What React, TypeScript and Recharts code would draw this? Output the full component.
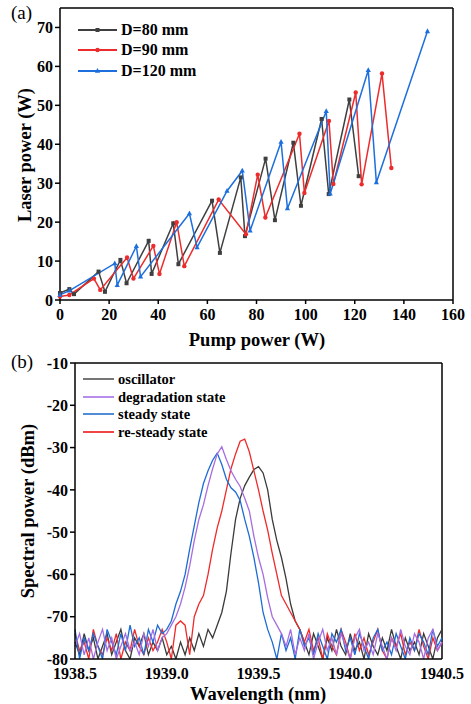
import { LineChart, Line, XAxis, YAxis, ReferenceLine } from 'recharts'

// (a) laser power vs pump power, points in measurement order (zig-zag)
const PUMP_80 = [0, 3.8, 5.7, 15.7, 18.3, 24.6, 27.1, 36.1, 37.3, 46.1, 48.2, 61.9, 65.1, 73.6, 75.3, 83.7, 87.5, 95, 98.1, 106.5, 109.4, 117.8, 121.6]
const LASER_80 = [1.8, 2.8, 1.5, 7.3, 2.1, 10.3, 4.3, 15.2, 6.7, 19.7, 9.2, 25.5, 12.1, 31.5, 16.4, 36.3, 20.5, 40.4, 24.2, 46.5, 27.2, 51.5, 31.8]

const PUMP_90 = [0, 3.8, 13.8, 16.4, 27.3, 29.9, 38, 40.5, 47.5, 50.6, 64.6, 75.7, 80.5, 83.6, 97.5, 99.5, 109.5, 111.3, 120.4, 122.8, 131.1, 134.9]
const LASER_90 = [0.9, 1.3, 5.5, 2.6, 10.9, 5.5, 13.9, 6.7, 20, 8.7, 25.8, 16.9, 32.2, 21.2, 42.7, 27.5, 46, 29.8, 53.3, 29.7, 58.2, 33.9]

const PUMP_120 = [0, 3.9, 22.3, 23.3, 31.1, 32.8, 52.7, 55.8, 68, 74.2, 77.4, 90, 92.6, 108.4, 110, 125.5, 128.8, 149.6]
const LASER_120 = [1.3, 2.4, 9.4, 3.8, 13.8, 6, 22.2, 13.5, 28, 33.2, 17.8, 40.6, 23.5, 48.5, 27.3, 59, 30.2, 69]

const PUMP_TICKS = [0, 20, 40, 60, 80, 100, 120, 140, 160]
const LASER_TICKS = [0, 10, 20, 30, 40, 50, 60, 70]

// (b) spectra
const WAVELENGTHS = [
  1938.5, 1938.525, 1938.55, 1938.575, 1938.6, 1938.625, 1938.65, 1938.675, 1938.7, 1938.725,
  1938.75, 1938.775, 1938.8, 1938.825, 1938.85, 1938.875, 1938.9, 1938.925, 1938.95, 1938.975,
  1939.0, 1939.025, 1939.05, 1939.075, 1939.1, 1939.125, 1939.15, 1939.175, 1939.2, 1939.225,
  1939.25, 1939.275, 1939.3, 1939.325, 1939.35, 1939.375, 1939.4, 1939.425, 1939.45, 1939.475,
  1939.5, 1939.525, 1939.55, 1939.575, 1939.6, 1939.625, 1939.65, 1939.675, 1939.7, 1939.725,
  1939.75, 1939.775, 1939.8, 1939.825, 1939.85, 1939.875, 1939.9, 1939.925, 1939.95, 1939.975,
  1940.0, 1940.025, 1940.05, 1940.075, 1940.1, 1940.125, 1940.15, 1940.175, 1940.2, 1940.225,
  1940.25, 1940.275, 1940.3, 1940.325, 1940.35, 1940.375, 1940.4, 1940.425, 1940.45, 1940.475,
  1940.5,
]

const OSCILLATOR = [
  -76, -79, -74, -78, -75, -80, -77, -74, -79, -76,
  -73, -78, -80, -75, -77, -74, -79, -76, -78, -75,
  -79, -77, -80, -76, -79, -75, -78, -74, -77, -73,
  -75, -72, -69, -64, -55, -47, -42, -39, -37, -35.2,
  -34.5, -36, -40, -47, -52, -56, -61, -67, -71, -73,
  -76, -79, -74, -77, -80, -75, -78, -73, -77, -79,
  -74, -78, -76, -80, -74, -77, -79, -75, -78, -73,
  -77, -80, -75, -78, -76, -79, -74, -77, -80, -75,
  -73,
]

const RE_STEADY = [
  -74, -78, -76, -80, -73, -77, -79, -75, -78, -74,
  -80, -76, -78, -73, -77, -79, -75, -78, -76, -73,
  -76, -80, -72, -71, -72, -79, -70, -67, -65, -60,
  -54, -49, -45, -40, -35, -31.5, -28.5, -28, -31, -35.5,
  -40, -45, -49.5, -55, -60, -65, -67, -69, -71, -73,
  -76, -73, -78, -75, -80, -74, -77, -79, -73, -76,
  -80, -74, -78, -75, -79, -76, -73, -78, -80, -75,
  -77, -74, -79, -76, -78, -73, -77, -80, -75, -78,
  -76,
]

const STEADY = [
  -73, -80, -75, -78, -74, -77, -80, -73, -76, -79,
  -74, -78, -72, -77, -75, -79, -73, -76, -72, -74,
  -73, -71, -67, -64, -60, -54, -48.5, -43, -38.5, -35.5,
  -33, -31.3, -34, -37.5, -39.5, -40.5, -42.5, -47, -51, -56,
  -62, -69, -73, -76, -80, -74, -78, -75, -80, -73,
  -77, -75, -79, -74, -77, -80, -74, -76, -73, -78,
  -75, -79, -74, -77, -80, -75, -73, -78, -76, -79,
  -74, -77, -80, -75, -78, -74, -76, -79, -73, -77,
  -75,
]

const DEGRADATION = [
  -77, -74, -79, -75, -80, -76, -73, -78, -75, -80,
  -77, -74, -78, -76, -79, -74, -77, -73, -78, -75,
  -74, -72, -70, -67, -63, -58, -52, -47, -43.5, -39,
  -35, -31.5, -29.8, -32.8, -35.5, -37.5, -39.2, -42, -45, -51,
  -56, -60, -65.5, -70, -72, -74, -77, -73, -79, -75,
  -78, -74, -80, -76, -73, -78, -75, -79, -74, -77,
  -80, -75, -73, -78, -76, -79, -74, -77, -80, -75,
  -78, -73, -77, -79, -74, -76, -80, -75, -73, -78,
  -76,
]

const WAVE_TICKS = [1938.5, 1939.0, 1939.5, 1940.0, 1940.5]
const DBM_TICKS = [-80, -70, -60, -50, -40, -30, -20, -10]

const SERIF = "'Liberation Serif', 'Times New Roman', Times, serif"

const C_80 = '#3f3f3f'
const C_90 = '#ec2c2c'
const C_120 = '#1c6fdc'
const C_OSC = '#3a3a3a'
const C_DEG = '#a66de0'
const C_STEADY = '#1d6cd6'
const C_RESTEADY = '#ee2a2a'

const zip = (xs: number[], ys: number[]) => xs.map((x, i) => ({ x, y: ys[i] }))

const spectrum = WAVELENGTHS.map((w, i) => ({
  w,
  osc: OSCILLATOR[i],
  deg: DEGRADATION[i],
  steady: STEADY[i],
  resteady: RE_STEADY[i],
}))

const tickStyle = { fill: '#000', fontSize: 16, fontWeight: 'bold', fontFamily: SERIF }
const axisLine = { stroke: '#000', strokeWidth: 1.5 }

type Shape = 'square' | 'circle' | 'triangle'

function markerEl(shape: Shape, cx: number, cy: number, color: string, key?: string | number) {
  if (shape === 'square') return <rect key={key} x={cx - 2} y={cy - 2} width={4} height={4} fill={color} />
  if (shape === 'circle') return <circle key={key} cx={cx} cy={cy} r={2.2} fill={color} />
  return <path key={key} d={`M${cx},${cy - 3} L${cx + 2.6},${cy + 1.8} L${cx - 2.6},${cy + 1.8} Z`} fill={color} />
}

function dotFor(shape: Shape, color: string) {
  return (p: any) => markerEl(shape, p.cx, p.cy, color, p.index)
}

const TITLE: React.CSSProperties = {
  position: 'absolute',
  fontFamily: SERIF,
  fontWeight: 'bold',
  fontSize: 18.5,
  lineHeight: 1,
  whiteSpace: 'nowrap',
  color: '#000',
}

function LegendRow({ color, label, shape, top, left, lineW, fontSize }: any) {
  return (
    <div style={{ position: 'absolute', left, top, display: 'flex', alignItems: 'center', height: 18 }}>
      <svg width={lineW} height={10}>
        <line x1={0} y1={5} x2={lineW} y2={5} stroke={color} strokeWidth={1.8} />
        {shape ? markerEl(shape, lineW / 2, 5, color) : null}
      </svg>
      <span style={{ marginLeft: 4, fontFamily: SERIF, fontWeight: 'bold', fontSize, color: '#000' }}>{label}</span>
    </div>
  )
}

export default function App() {
  return (
    <div style={{ position: 'absolute', left: 0, top: 0, width: 471, height: 704, background: '#fff', overflow: 'hidden' }}>
      {/* (a) */}
      <div style={{ position: 'absolute', left: 0, top: 0 }}>
        <LineChart width={471} height={350} margin={{ top: 8, right: 18, left: 0, bottom: 0 }}>
          <XAxis
            type="number"
            dataKey="x"
            domain={[0, 160]}
            ticks={PUMP_TICKS}
            height={50}
            tick={tickStyle}
            axisLine={axisLine}
            tickLine={axisLine}
            tickSize={4}
            tickMargin={5}
            allowDuplicatedCategory={false}
          />
          <YAxis
            type="number"
            dataKey="y"
            domain={[0, 75]}
            ticks={LASER_TICKS}
            width={60}
            tick={tickStyle}
            axisLine={axisLine}
            tickLine={axisLine}
            tickSize={5}
          />
          <ReferenceLine y={75} stroke="#000" strokeWidth={1.5} />
          <ReferenceLine x={160} stroke="#000" strokeWidth={1.5} />
          <Line data={zip(PUMP_80, LASER_80)} dataKey="y" stroke={C_80} strokeWidth={1.5} dot={dotFor('square', C_80)} isAnimationActive={false} />
          <Line data={zip(PUMP_90, LASER_90)} dataKey="y" stroke={C_90} strokeWidth={1.5} dot={dotFor('circle', C_90)} isAnimationActive={false} />
          <Line data={zip(PUMP_120, LASER_120)} dataKey="y" stroke={C_120} strokeWidth={1.5} dot={dotFor('triangle', C_120)} isAnimationActive={false} />
        </LineChart>
      </div>
      <div style={{ ...TITLE, fontWeight: 'normal', fontSize: 19, left: 11, top: 3 }}>(a)</div>
      <div style={{ ...TITLE, left: 25, top: 155, transform: 'translate(-50%, -50%) rotate(-90deg)' }}>Laser power (W)</div>
      <div style={{ ...TITLE, left: 257, top: 340, transform: 'translate(-50%, -50%)' }}>Pump power (W)</div>
      <LegendRow color={C_80} label="D=80 mm" shape="square" left={78} top={21} lineW={39} fontSize={16} />
      <LegendRow color={C_90} label="D=90 mm" shape="circle" left={78} top={41} lineW={39} fontSize={16} />
      <LegendRow color={C_120} label="D=120 mm" shape="triangle" left={78} top={62} lineW={39} fontSize={16} />

      {/* (b) */}
      <div style={{ position: 'absolute', left: 0, top: 350 }}>
        <LineChart width={471} height={354} data={spectrum} margin={{ top: 13, right: 29, left: 0, bottom: 0 }}>
          <XAxis
            type="number"
            dataKey="w"
            domain={[1938.5, 1940.5]}
            ticks={WAVE_TICKS}
            tickFormatter={(v: number) => v.toFixed(1)}
            height={45}
            tick={tickStyle}
            axisLine={axisLine}
            tickLine={false}
            tickSize={2}
            tickMargin={7}
          />
          <YAxis
            type="number"
            domain={[-80, -10]}
            ticks={DBM_TICKS}
            width={75}
            tick={tickStyle}
            axisLine={axisLine}
            tickLine={axisLine}
            tickSize={5}
            allowDataOverflow
          />
          <ReferenceLine y={-10} stroke="#000" strokeWidth={1.5} />
          <ReferenceLine x={1940.5} stroke="#000" strokeWidth={1.5} />
          <Line dataKey="osc" stroke={C_OSC} strokeWidth={1.3} dot={false} isAnimationActive={false} />
          <Line dataKey="resteady" stroke={C_RESTEADY} strokeWidth={1.3} dot={false} isAnimationActive={false} />
          <Line dataKey="steady" stroke={C_STEADY} strokeWidth={1.3} dot={false} isAnimationActive={false} />
          <Line dataKey="deg" stroke={C_DEG} strokeWidth={1.3} dot={false} isAnimationActive={false} />
        </LineChart>
      </div>
      <div style={{ ...TITLE, fontWeight: 'normal', fontSize: 19, left: 11, top: 352 }}>(b)</div>
      <div style={{ ...TITLE, left: 28, top: 511, transform: 'translate(-50%, -50%) rotate(-90deg)' }}>Spectral power (dBm)</div>
      <div style={{ ...TITLE, left: 258, top: 694, transform: 'translate(-50%, -50%)' }}>Wavelength (nm)</div>
      <LegendRow color="#666" label="oscillator" left={83} top={370} lineW={31} fontSize={14.5} />
      <LegendRow color="#b07fe8" label="degradation state" left={83} top={388} lineW={31} fontSize={14.5} />
      <LegendRow color="#3d80d2" label="steady state" left={83} top={405} lineW={31} fontSize={14.5} />
      <LegendRow color="#ee3030" label="re-steady state" left={83} top={423} lineW={31} fontSize={14.5} />
    </div>
  )
}
